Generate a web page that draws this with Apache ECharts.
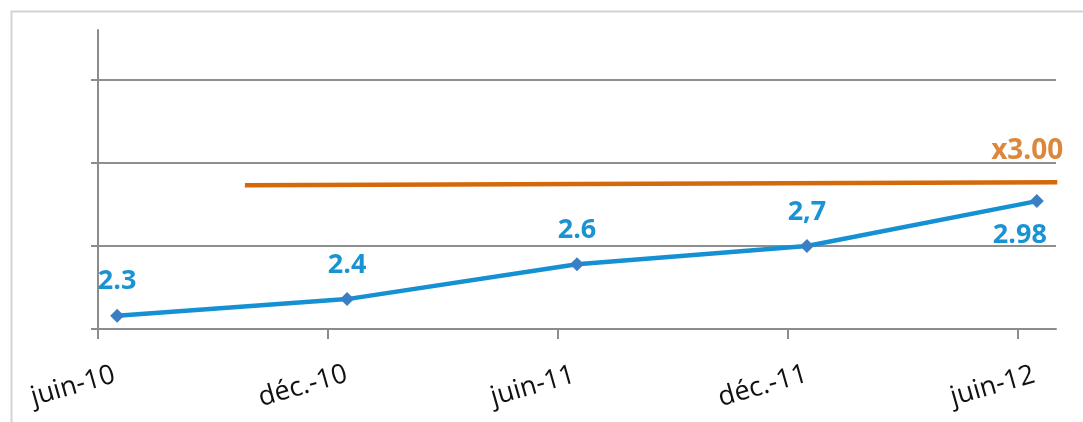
<!DOCTYPE html>
<html>
<head>
<meta charset="utf-8">
<script src="https://cdn.jsdelivr.net/npm/echarts@6/dist/echarts.min.js"></script>
<style>
html,body{margin:0;padding:0;background:#fff;}
#chart{width:1083px;height:422px;}
</style>
</head>
<body>
<div id="chart"></div>
<script>
// Data
var tickLabels = ['juin-10', 'déc.-10', 'juin-11', 'déc.-11', 'juin-12'];
var tickMonths = [0, 6, 12, 18, 24];           // months after 2010-06-01
var pointDates = ['2010-06-16', '2010-12-16', '2011-06-16', '2011-12-16', '2012-06-16'];
var values = [2.28, 2.38, 2.59, 2.70, 2.97];
var valueLabels = ['2.3', '2.4', '2.6', '2,7', '2.98'];
var targetDates = ['2010-09-26', '2012-07-02'];
var targetValues = [3.066, 3.083];
var targetLabel = 'x3.00';
var yTicks = [2.2, 2.7, 3.2, 3.7];

function monthsFromStart(s) {
  var p = s.split('-').map(Number);
  return (p[0] - 2010) * 12 + (p[1] - 6) + (p[2] - 1) / 30;
}

var lineData = pointDates.map(function (d, i) {
  var pt = [monthsFromStart(d), values[i]];
  if (i === pointDates.length - 1) {
    return {value: pt, label: {position: 'bottom', distance: 12, offset: [-17, 0]}};
  }
  return {value: pt};
});
var targetData = targetDates.map(function (d, i) { return [monthsFromStart(d), targetValues[i]]; });

var BLUE = '#1591d3';
var ORANGE = '#d3690a';
var GRAY = '#8c8c8c';

var chart = echarts.init(document.getElementById('chart'), null, {renderer: 'canvas'});
chart.setOption({
  animation: false,
  backgroundColor: '#fff',
  graphic: [{
    type: 'rect', left: 9, top: 9, silent: true,
    shape: {width: 1200, height: 600},
    style: {fill: 'none', stroke: '#d4d4d4', lineWidth: 2}
  }],
  grid: {left: 98, right: 27, top: 30, bottom: 93, containLabel: false},
  xAxis: {
    type: 'value', min: 0, max: 25,
    axisLine: {show: true, lineStyle: {color: GRAY, width: 2}},
    axisTick: {show: true, customValues: tickMonths, length: 10, lineStyle: {color: GRAY, width: 2}},
    splitLine: {show: false},
    axisLabel: {
      customValues: tickMonths,
      formatter: function (v) { var i = tickMonths.indexOf(v); return i >= 0 ? tickLabels[i] : ''; },
      rotate: 16, align: 'center', verticalAlign: 'middle', margin: 50,
      padding: [0, 52, 0, 0],
      fontFamily: 'Open Sans', fontSize: 27, color: '#111'
    }
  },
  yAxis: {
    type: 'value', min: 2.2, max: 4.0, interval: 0.5,
    axisLine: {show: true, lineStyle: {color: GRAY, width: 2}},
    axisTick: {show: true, customValues: yTicks, length: 7, lineStyle: {color: GRAY, width: 2}},
    axisLabel: {show: false},
    splitLine: {show: true, lineStyle: {color: '#8f8f8f', width: 2}}
  },
  series: [{
    type: 'line',
    data: targetData,
    symbol: 'none',
    clip: false,
    lineStyle: {color: ORANGE, width: 4.5},
    z: 3
  }, {
    type: 'scatter',
    data: [targetData[targetData.length - 1]],
    symbolSize: 0,
    clip: false,
    label: {
      show: true, position: 'top', distance: 5, offset: [-30, -11],
      formatter: function () { return targetLabel; },
      fontFamily: 'Open Sans', fontWeight: 'bold', fontSize: 28, lineHeight: 30, color: ORANGE
    },
    z: 5
  }, {
    type: 'line',
    data: lineData,
    symbol: 'diamond',
    symbolSize: 14,
    itemStyle: {color: '#3a7fc6'},
    lineStyle: {color: BLUE, width: 4.5},
    label: {
      show: true, position: 'top', distance: 12,
      formatter: function (p) { return valueLabels[p.dataIndex]; },
      fontFamily: 'Open Sans', fontWeight: 'bold', fontSize: 27, lineHeight: 30, color: '#1a93d2'
    },
    z: 4
  }]
});
</script>
</body>
</html>
